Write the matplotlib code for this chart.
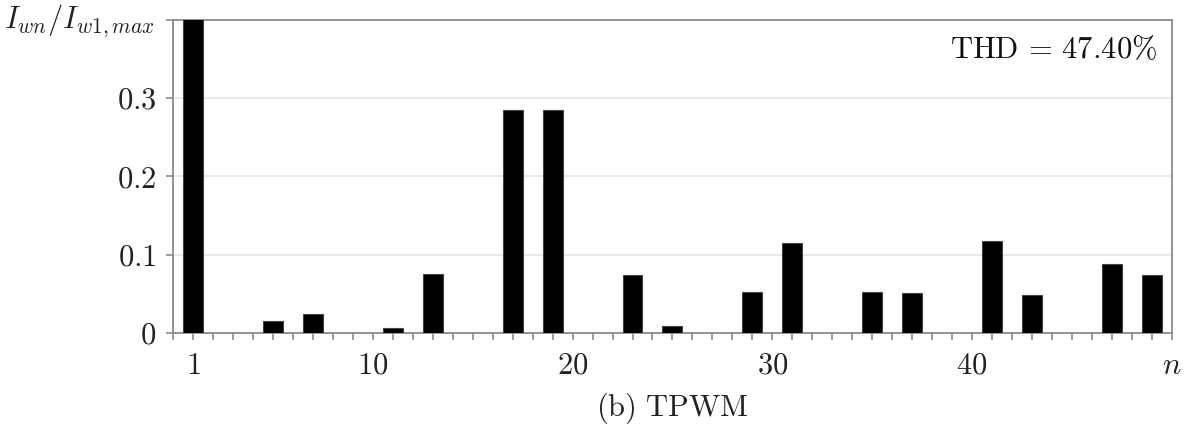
"""Harmonic spectrum of the TPWM winding current, normalised to the peak fundamental."""

import matplotlib

matplotlib.use("Agg")
import matplotlib.pyplot as plt
from matplotlib.ticker import FixedLocator, FixedFormatter, MultipleLocator

plt.rcParams["mathtext.fontset"] = "cm"
plt.rcParams["font.family"] = "serif"
plt.rcParams["font.serif"] = ["cmr10", "DejaVu Serif"]

# harmonic order and amplitude I_wn / I_w1,max
harmonics = [1, 5, 7, 11, 13, 17, 19, 23, 25, 29, 31, 35, 37, 41, 43, 47, 49]
amplitudes = [1.0, 0.015, 0.0235, 0.0056, 0.075, 0.285, 0.285, 0.0743, 0.0082,
              0.052, 0.1145, 0.0517, 0.0504, 0.117, 0.048, 0.088, 0.0735]

thd_percent = 47.40
x_ticks = [1, 10, 20, 30, 40, 50]
x_ticklabels = ["$1$", "$10$", "$20$", "$30$", "$40$", "$n$"]
y_ticks = [0, 0.1, 0.2, 0.3, 0.4]
y_ticklabels = ["$0$", "$0.1$", "$0.2$", "$0.3$", ""]

FS = 22
SPINE = "#8a8a8a"

fig = plt.figure(figsize=(11.92, 4.30), dpi=100)
ax = fig.add_axes([0.1451, 0.2263, 0.9832 - 0.1451, 0.9535 - 0.2263])

ax.bar(harmonics, amplitudes, width=1.0, color="black", edgecolor="#444444",
       linewidth=0.8, zorder=3)

ax.set_xlim(0, 50)
ax.set_ylim(0, 0.4)

ax.xaxis.set_major_locator(FixedLocator(x_ticks))
ax.xaxis.set_major_formatter(FixedFormatter(x_ticklabels))
ax.xaxis.set_minor_locator(MultipleLocator(1))
ax.yaxis.set_major_locator(FixedLocator(y_ticks))
ax.yaxis.set_major_formatter(FixedFormatter(y_ticklabels))

ax.tick_params(axis="x", which="both", direction="out", length=5, width=1.2,
               color=SPINE, labelsize=FS, pad=9)
ax.tick_params(axis="y", which="major", direction="out", length=5, width=1.2,
               color=SPINE, labelsize=FS, pad=7)
for t in ax.get_xticklabels() + ax.get_yticklabels():
    t.set_color("#222222")

for sp in ax.spines.values():
    sp.set_color(SPINE)
    sp.set_linewidth(1.3)

for yv in y_ticks[1:-1]:
    ax.axhline(yv, color="#e6e6e6", linewidth=1.2, zorder=1)

ax.annotate(r"$I_{wn}/I_{w1,max}$", xy=(0, 1), xycoords="axes fraction",
            xytext=(-18, -8), textcoords="offset pixels", ha="right",
            va="baseline", fontsize=FS, color="#222222")

ax.text(0.985, 0.905, r"$\mathrm{THD}\,=\,%.2f\%%$" % thd_percent,
        transform=ax.transAxes, ha="right", va="center", fontsize=FS,
        color="#111111")

fig.text(0.5638, 0.051, r"$\mathrm{(b)\ TPWM}$", ha="center", va="center",
         fontsize=FS, color="#222222")

fig.savefig("out.png", dpi=100)
plt.close(fig)
